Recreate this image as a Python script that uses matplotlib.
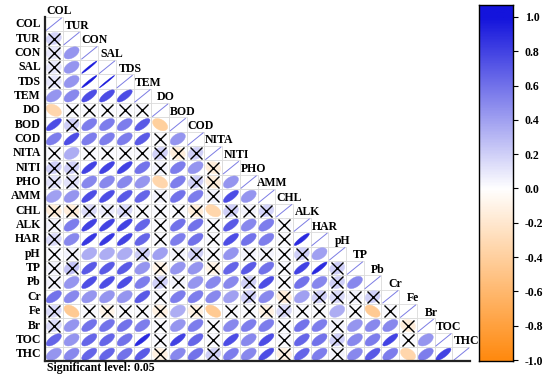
import numpy as np
import matplotlib
matplotlib.use("Agg")
import matplotlib.pyplot as plt
from matplotlib.colors import LinearSegmentedColormap, Normalize
from matplotlib.patches import Polygon, Rectangle

names = ["COL", "TUR", "CON", "SAL", "TDS", "TEM", "DO", "BOD", "COD", "NITA", "NITI", "PHO",
         "AMM", "CHL", "ALK", "HAR", "pH", "TP", "Pb", "Cr", "Fe", "Br", "TOC", "THC"]

# lower triangle correlations, row i holds columns 0..i-1 (starting at TUR)
r_rows = [
    [0.18],
    [0.1, 0.45],
    [0.1, 0.45, 0.98],
    [0.1, 0.45, 0.97, 0.99],
    [0.45, 0.5, 0.75, 0.75, 0.75],
    [-0.35, 0.02, 0.03, 0.03, 0.03, 0.03],
    [0.75, 0.2, 0.55, 0.55, 0.55, 0.7, -0.4],
    [0.55, 0.75, 0.55, 0.55, 0.55, 0.7, 0.02, 0.45],
    [0.03, 0.35, 0.03, 0.03, 0.03, 0.03, 0.2, -0.15, 0.2],
    [0.2, 0.2, 0.8, 0.8, 0.8, 0.6, 0.05, 0.55, 0.45, -0.15],
    [0.12, 0.12, 0.5, 0.5, 0.5, 0.45, -0.35, 0.55, 0.2, -0.15, 0.45],
    [0.4, 0.45, 0.75, 0.75, 0.7, 0.65, 0.05, 0.6, 0.55, 0.05, 0.75, 0.45],
    [-0.15, -0.15, 0.15, 0.08, 0.15, 0.03, 0.03, 0.03, -0.15, -0.35, 0.2, 0.05, 0.18],
    [0.05, 0.55, 0.8, 0.8, 0.8, 0.65, 0.03, 0.6, 0.6, 0.03, 0.7, 0.5, 0.55, 0.03],
    [0.15, 0.5, 0.85, 0.85, 0.8, 0.65, 0.03, 0.55, 0.6, 0.03, 0.75, 0.6, 0.55, 0.03, 0.9],
    [0.03, 0.05, 0.35, 0.35, 0.35, 0.2, 0.4, 0.05, 0.2, 0.03, 0.45, 0.05, 0.05, 0.03, 0.2, 0.4],
    [0.05, 0.25, 0.7, 0.7, 0.7, 0.45, -0.1, 0.45, 0.45, -0.1, 0.65, 0.7, 0.6, 0.03, 0.8, 0.9, 0.2],
    [0.05, 0.45, 0.75, 0.75, 0.75, 0.55, 0.2, 0.05, 0.45, 0.5, 0.5, 0.2, 0.75, 0.03, 0.6, 0.5, 0.2, 0.5],
    [0.6, 0.5, 0.45, 0.45, 0.45, 0.7, 0.03, 0.55, 0.55, 0.5, 0.4, 0.2, 0.5, -0.15, 0.4, 0.2, 0.15, 0.05, 0.2],
    [0.15, -0.45, 0.03, -0.1, 0.03, 0.03, -0.12, 0.35, -0.12, -0.45, 0.03, 0.03, -0.12, 0.15, 0.03, 0.03,
     0.35, 0.03, -0.45, 0.03],
    [0.15, 0.45, 0.6, 0.6, 0.6, 0.55, 0.03, 0.45, 0.55, 0.03, 0.5, 0.55, 0.55, 0.03, 0.6, 0.55, 0.05,
     0.45, 0.5, 0.5, -0.15],
    [0.65, 0.45, 0.65, 0.65, 0.6, 0.9, 0.03, 0.8, 0.65, 0.03, 0.75, 0.5, 0.75, 0.03, 0.65, 0.6, 0.2,
     0.5, 0.55, 0.8, 0.03, 0.45],
    [0.45, 0.5, 0.65, 0.65, 0.6, 0.7, -0.12, 0.5, 0.6, 0.2, 0.55, 0.5, 0.75, -0.12, 0.65, 0.55, 0.05,
     0.5, 0.7, 0.55, -0.35, 0.55, 0.8],
]

# 'x' = not significant (crossed out)
ns_rows = [
    "x",
    "x.",
    "x..",
    "x...",
    ".....",
    ".xxxxx",
    ".x.....",
    "......x.",
    "x.xxxxxxx",
    "xx....x..x",
    "xx......xx.",
    "......x..x..",
    "xxxxxxxxx.xxx",
    "x.....x..x...x",
    "x.....x..x...x.",
    "xx...x.xxx.xxxx.",
    "xx....x..x...x..x",
    "x.....xx...x.x..x.",
    "......x....x.x.xxxx",
    "x.xxxxx.x.xxxxxx.x.x",
    "x.....x..x...x..x...x",
    "......x..x...x..x...x.",
    "......x..x...x..x......",
]

cbar_ticks = [1.0, 0.8, 0.6, 0.4, 0.2, 0.0, -0.2, -0.4, -0.6, -0.8, -1.0]
sig_text = "Significant level: 0.05"

plt.rcParams['font.family'] = ['Liberation Serif', 'DejaVu Serif']
plt.rcParams['font.weight'] = 'bold'

cmap = LinearSegmentedColormap.from_list("orbl", ["#FF8A10", "#FFFFFF", "#1414DC"])
n = len(names)

fig = plt.figure(figsize=(5.5, 3.78), dpi=100)
ax = fig.add_axes([45 / 550, (378 - 361.4) / 378, 425 / 550, 344.4 / 378])
ax.set_xlim(0, n)
ax.set_ylim(n, 0)
ax.axis('off')

k = np.linspace(0, 2 * np.pi, 99)
for i in range(n):
    for j in range(i + 1):
        ax.add_patch(Rectangle((j, i), 1, 1, fc='white', ec='#DADADA', lw=0.6, zorder=1))
        if i == j:
            ax.plot([j + 0.075, j + 0.925], [i + 0.925, i + 0.075], color='#7C7CE4', lw=0.7, zorder=2)
            continue
        r = r_rows[i - 1][j]
        d = np.arccos(r)
        ex = j + 0.5 + 0.425 * np.cos(k + d / 2)
        ey = i + 0.5 - 0.425 * np.cos(k - d / 2)
        c = cmap((r + 1) / 2)
        ax.add_patch(Polygon(np.column_stack([ex, ey]), closed=True, fc=c, ec=c, lw=0.3, zorder=2))
        if ns_rows[i - 1][j] == 'x':
            ax.plot(j + 0.5, i + 0.5, marker='x', ms=8.5, mew=1.0, color='black', zorder=3)

ax.plot([0, 0], [0, n], color='#222222', lw=1.6, clip_on=False, zorder=4)
ax.plot([0, n], [n, n], color='#222222', lw=1.6, clip_on=False, zorder=4)

for i, nm in enumerate(names):
    ax.text(-0.23, i + 0.5, nm, ha='right', va='center', fontsize=8.5)
    ax.text(i + 0.8, i - 0.4, nm, ha='center', va='center', fontsize=8.5)

ax.text(0.1, n + 0.45, sig_text, ha='left', va='center', fontsize=8.5)

# colour legend
lo = -1 - 1 / 172.5
hi = 1 + 12 / 172.5
cax = fig.add_axes([479 / 550, (378 - 361) / 378, 34 / 550, 356 / 378])
grad = np.linspace(lo, hi, 400).reshape(-1, 1)
cax.imshow(grad, extent=[0, 1, lo, hi], origin='lower', aspect='auto', cmap=cmap,
           norm=Normalize(vmin=-1, vmax=1))
cax.set_xlim(0, 1)
cax.set_ylim(lo, hi)
cax.set_xticks([])
cax.yaxis.tick_right()
cax.set_yticks(cbar_ticks)
cax.set_yticklabels(["%.1f" % t for t in cbar_ticks], fontsize=8.5)
cax.tick_params(axis='y', length=3.5, width=0.8, pad=5)
for s in cax.spines.values():
    s.set_linewidth(1.0)

fig.savefig("out.png", dpi=100)
